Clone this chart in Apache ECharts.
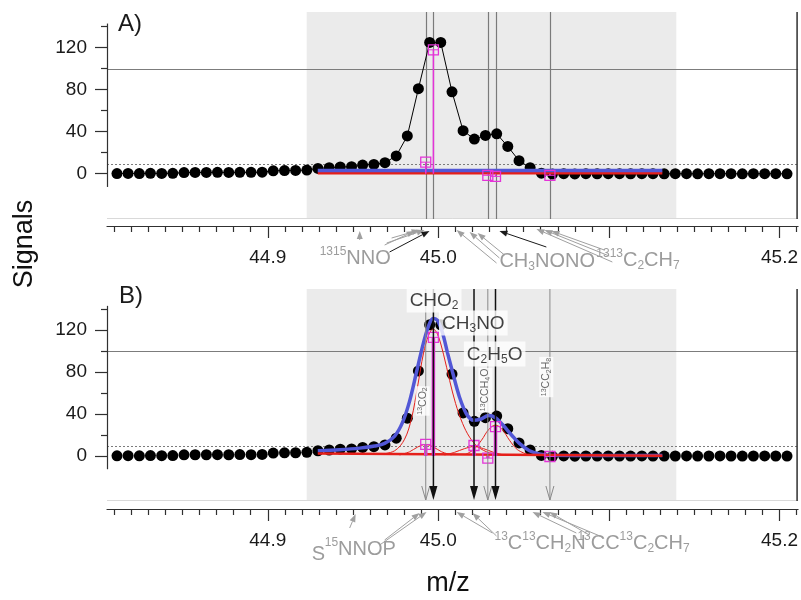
<!DOCTYPE html>
<html>
<head>
<meta charset="utf-8">
<script src="https://cdn.jsdelivr.net/npm/echarts@6/dist/echarts.min.js"></script>
<style>
  html, body { margin: 0; padding: 0; background: #fff; }
  #chart { width: 801px; height: 600px; }
</style>
</head>
<body>
<div id="chart"></div>
<script>
// ---------------------------------------------------------------
// Spectrum data
// ---------------------------------------------------------------
// m/z of each acquisition bin
const mzBins = [
  44.8116, 44.8181, 44.8247, 44.8312, 44.8378, 44.8443, 44.8509, 44.8574,
  44.8640, 44.8705, 44.8771, 44.8836, 44.8902, 44.8967, 44.9032, 44.9098,
  44.9163, 44.9229, 44.9294, 44.9360, 44.9425, 44.9491, 44.9556, 44.9622,
  44.9687, 44.9753, 44.9818, 44.9883, 44.9949, 45.0014, 45.0080, 45.0145,
  45.0211, 45.0276, 45.0342, 45.0407, 45.0473, 45.0538, 45.0604, 45.0669,
  45.0735, 45.0800, 45.0865, 45.0931, 45.0996, 45.1062, 45.1127, 45.1193,
  45.1258, 45.1324, 45.1389, 45.1455, 45.1520, 45.1586, 45.1651, 45.1716,
  45.1782, 45.1847, 45.1913, 45.1978, 45.2044
];
// measured signal in each bin
const signal = [
  0.2, 0.3, 0.2, 0.4, 0.3, 0.4,
  1.1, 1.2, 1.2, 1.3, 1.2, 1.4, 1.3, 1.5,
  2.8, 3.0, 3.1,
  3.5, 5.0, 5.7, 6.5, 6.7, 8.2, 8.9, 10.5, 17, 36, 81, 125, 125, 78, 41,
  33, 36.5, 38, 26, 12.4, 5.7, 0.5, -0.3,
  0.1, -0.2, 0.0, -0.1, 0.1, 0.0, -0.1, 0.1, 0.0, -0.1, 0.0, 0.1, -0.1,
  0.0, 0.1, 0.0, -0.1, 0.0, 0.1, 0.0, -0.1
];

// fitting window (shaded) and reference levels
const fitWindow = [44.9228, 45.1395];
const refLevel = 100;
const noiseLevel = 9.5;

// candidate ions
const ionNames = ['13CO2', 'CHO2', 'CH3NO', '13CCH4O', 'C2H5O', '13CC2H8'];
const ionMz = [44.9926, 44.9971, 45.0209, 45.0290, 45.0335, 45.0654];
const ionInPanelA = [true, true, false, true, true, true];
const ionAssigned = [false, true, true, false, true, false];
// stick heights (null = not shown)
const stickA = [11, 118, null, -1.5, -2.5, -1.5];
const stickB = [11, 113, 10, -2, 28, -0.5];

// panel A: fit result without peak assignment
const fitFlatA = [[44.9293, 3], [45.1313, 3]];
const baseFlatA = [[44.9293, 0.7], [45.1313, 0.7]];

// panel B: cumulative fit
const fitSumB = [
  [44.9293, 5], [44.9422, 6], [44.9539, 7.5], [44.9626, 9.5], [44.9685, 12],
  [44.9744, 19], [44.9790, 32], [44.9831, 52], [44.9872, 80], [44.9913, 108],
  [44.9943, 124], [44.9969, 131], [44.9995, 129], [45.0025, 117], [45.0054, 98],
  [45.0083, 80], [45.0124, 56], [45.0165, 40], [45.0206, 34], [45.0247, 35],
  [45.0294, 38.5], [45.0335, 36.5], [45.0376, 30], [45.0429, 20], [45.0475, 12],
  [45.0534, 5], [45.0592, 2], [45.0663, 0.6], [45.0944, 0.5], [45.1313, 0.5]
];
// panel B: baseline and single-ion peaks
const baselineB = [[44.9293, 2.3], [45.1313, 0.3]];
const peakCHO2 = [
  [44.9656, 1.5], [44.9744, 5], [44.9802, 16], [44.9843, 36], [44.9878, 66],
  [44.9913, 98], [44.9943, 115], [44.9969, 121], [44.9995, 116], [45.0030, 97],
  [45.0066, 72], [45.0101, 50], [45.0142, 31], [45.0183, 18], [45.0230, 9],
  [45.0300, 3], [45.0388, 1], [45.0475, 0.5]
];
const peak13CO2 = [
  [44.9773, 1], [44.9831, 4], [44.9878, 8.5], [44.9925, 11], [44.9972, 8.5],
  [45.0019, 4], [45.0077, 1]
];
const peakCH3NO = [
  [45.0036, 1], [45.0095, 3.5], [45.0153, 7], [45.0209, 9], [45.0265, 7],
  [45.0323, 3.5], [45.0382, 1]
];
const peakC2H5O = [
  [45.0159, 1.5], [45.0206, 6], [45.0253, 15], [45.0294, 25], [45.0335, 29.5],
  [45.0376, 25], [45.0417, 15], [45.0464, 6], [45.0522, 1.5]
];

// axis ticks
const yLabelTicks = [0, 40, 80, 120];
const yMinorTicks = [20, 60, 100, 140];
const xMajorTicks = [44.9, 45.0, 45.1, 45.2];
const xLabelTicks = [44.9, 45.0, 45.2];
const xMinorTicks = [
  44.81, 44.82, 44.83, 44.84, 44.85, 44.86, 44.87, 44.88, 44.89,
  44.91, 44.92, 44.93, 44.94, 44.95, 44.96, 44.97, 44.98, 44.99,
  45.01, 45.02, 45.03, 45.04, 45.05, 45.06, 45.07, 45.08, 45.09,
  45.11, 45.12, 45.13, 45.14, 45.15, 45.16, 45.17, 45.18, 45.19,
  45.21
];

// ---------------------------------------------------------------
// Layout and styles
// ---------------------------------------------------------------
const FONT = 'Liberation Sans, Arial, sans-serif';
const XMIN = 44.80574, XMAX = 45.21089;
const AXIS_SPAN = [-12.6, 143];
const MAGENTA = '#e433d8';
const BLUE = '#5257d6';
const RED = '#e51f1a';
const GRAY_TXT = '#9c9c9c';

const panels = [
  { grid: { left: 107, top: 12, width: 692, height: 207 }, ymin: -43.1, ymax: 154.0, offset: 7 },
  { grid: { left: 107, top: 289, width: 692, height: 212 }, ymin: -42.86, ymax: 159.05, offset: 8 }
];

// Ion tags inside panel B (anchor m/z, anchor signal level)
const mainTags = [
  { mz: 44.9975, y: 148.6, text: 'CHO{s|2}' },
  { mz: 45.0205, y: 126.7, text: 'CH{s|3}NO' },
  { mz: 45.0330, y: 97.1, text: 'C{s|2}H{s|5}O' }
];
const isoTags = [
  { mz: 44.9908, y: 52.4, text: '{p|13}CO{s|2}' },
  { mz: 45.0276, y: 62.9, text: '{p|13}CCH{s|4}O' },
  { mz: 45.0633, y: 75.2, text: '{p|13}CC{s|2}H{s|8}' }
];

// Candidate labels below the m/z axis: dy = pixels under the axis line
const underAxis = [
  {
    texts: [
      { mz: 44.9304, dy: 20, text: '{p|13}{p|15}NNO' },
      { mz: 45.0358, dy: 23, text: 'CH{b|3}NONO' },
      { mz: 45.0926, dy: 22, text: '{p|13}{p|13}C{b|2}CH{b|7}' }
    ],
    arrows: [
      { from: [44.9539, 14], to: [44.9539, 5], c: 'g' },
      { from: [44.9697, 17], to: [44.9919, 4], c: 'g' },
      { from: [44.9726, 12], to: [44.9890, 4], c: 'g' },
      { from: [44.9685, 19], to: [44.9861, 5], c: 'g' },
      { from: [44.9714, 26], to: [44.9948, 5], c: 'k' },
      { from: [45.0341, 37], to: [45.0107, 4], c: 'g' },
      { from: [45.0358, 32], to: [45.0183, 6], c: 'g' },
      { from: [45.0388, 29], to: [45.0230, 7], c: 'g' },
      { from: [45.0633, 21], to: [45.0358, 5], c: 'k' },
      { from: [45.1020, 36], to: [45.0575, 3], c: 'g' },
      { from: [45.1002, 30], to: [45.0622, 4], c: 'g' },
      { from: [45.0973, 24], to: [45.0663, 5], c: 'g' }
    ]
  },
  {
    texts: [
      { mz: 44.9258, dy: 33, text: 'S' },
      { mz: 44.9334, dy: 28, text: '{p|15}NNOP' },
      { mz: 45.0329, dy: 22, text: '{p|13}C{p|13}CH{b|2}N' },
      { mz: 45.0815, dy: 22, text: '{p|13}CC{p|13}C{b|2}CH{b|7}' }
    ],
    arrows: [
      { from: [44.9480, 19], to: [44.9515, 5], c: 'g' },
      { from: [44.9656, 36], to: [44.9931, 3], c: 'g' },
      { from: [44.9685, 31], to: [44.9890, 4], c: 'g' },
      { from: [45.0317, 24], to: [45.0107, 3], c: 'g' },
      { from: [45.0341, 27], to: [45.0200, 4], c: 'g' },
      { from: [45.0809, 24], to: [45.0552, 3], c: 'g' },
      { from: [45.0961, 28], to: [45.0610, 3], c: 'g' },
      { from: [45.0885, 26], to: [45.0651, 3], c: 'g' }
    ]
  }
];

// ---------------------------------------------------------------
// Helpers
// ---------------------------------------------------------------
const crisp = v => Math.round(v) + 0.5;
const seg = (x1, y1, x2, y2, style) => ({ type: 'line', shape: { x1, y1, x2, y2 }, style });

function arrow(x1, y1, x2, y2, color, width, L, W) {
  const a = Math.atan2(y2 - y1, x2 - x1);
  const bx = x2 - L * Math.cos(a), by = y2 - L * Math.sin(a);
  const nx = -Math.sin(a) * W, ny = Math.cos(a) * W;
  return [
    seg(x1, y1, bx, by, { stroke: color, lineWidth: width }),
    { type: 'polygon', shape: { points: [[x2, y2], [bx + nx, by + ny], [bx - nx, by - ny]] }, style: { fill: color } }
  ];
}

// shaded window, reference levels, frame and partial value axis line
function renderDecor(withIonLines) {
  return function (params, api) {
    const cs = params.coordSys;
    const left = cs.x, right = cs.x + cs.width, top = cs.y, bottom = cs.y + cs.height;
    const px = v => api.coord([v, 0])[0];
    const py = v => api.coord([XMIN, v])[1];
    const kids = [];
    const w0 = px(fitWindow[0]), w1 = px(fitWindow[1]);
    kids.push({ type: 'rect', shape: { x: w0, y: top, width: w1 - w0, height: cs.height }, style: { fill: '#ebebeb' } });
    kids.push(seg(left, crisp(py(refLevel)), right, crisp(py(refLevel)), { stroke: '#7c7c7c', lineWidth: 1.1 }));
    kids.push(seg(left, crisp(py(noiseLevel)), right, crisp(py(noiseLevel)), { stroke: '#7c7c7c', lineWidth: 1, lineDash: [2, 2] }));
    kids.push(seg(left, bottom - 0.5, right, bottom - 0.5, { stroke: '#d9d9d9', lineWidth: 1 }));
    kids.push(seg(right - 1, top, right - 1, bottom, { stroke: '#303030', lineWidth: 1.5 }));
    kids.push(seg(left + 0.5, py(AXIS_SPAN[1]), left + 0.5, py(AXIS_SPAN[0]), { stroke: '#303030', lineWidth: 1.2 }));
    if (withIonLines) {
      ionMz.forEach((m, i) => {
        if (!ionInPanelA[i]) return;
        const x = crisp(px(m));
        kids.push(seg(x, top, x, bottom, { stroke: '#7a7a7a', lineWidth: 1.2 }));
      });
    }
    return { type: 'group', children: kids };
  };
}

// ion markers with arrowheads at the bottom of panel B
function renderIonArrows(params, api) {
  const cs = params.coordSys;
  const i = api.value(1);
  const x = api.coord([api.value(0), 0])[0];
  const top = cs.y, tip = cs.y + cs.height - 1;
  if (ionAssigned[i]) {
    return {
      type: 'group', children: [
        seg(x, top, x, tip - 10, { stroke: '#111', lineWidth: 1.5 }),
        { type: 'polygon', shape: { points: [[x - 4, tip - 14], [x + 4, tip - 14], [x, tip]] }, style: { fill: '#111' } }
      ]
    };
  }
  return {
    type: 'group', children: [
      seg(x, top, x, tip, { stroke: '#8a8a8a', lineWidth: 1 }),
      { type: 'polyline', shape: { points: [[x - 4, tip - 14], [x, tip], [x + 4, tip - 14]] }, style: { stroke: '#8a8a8a', lineWidth: 1, fill: 'none' } }
    ]
  };
}

// magenta sticks with square markers
function renderSticks(width) {
  return function (params, api) {
    const m = api.value(0), v = api.value(1);
    const b = api.coord([m, 0]), t = api.coord([m, v]);
    const s = 5;
    return {
      type: 'group', children: [
        seg(b[0], b[1], t[0], t[1], { stroke: MAGENTA, lineWidth: width }),
        { type: 'rect', shape: { x: t[0] - s, y: t[1] - s, width: 2 * s, height: 2 * s }, style: { fill: 'none', stroke: MAGENTA, lineWidth: 1.3 } },
        seg(t[0] - s, t[1], t[0] + s, t[1], { stroke: MAGENTA, lineWidth: 1 })
      ]
    };
  };
}

// grey candidate labels and leader arrows under the axis
function renderUnderAxis(spec, offset) {
  return function (params, api) {
    const cs = params.coordSys;
    const axisY = cs.y + cs.height + offset;
    const px = v => api.coord([v, 0])[0];
    const kids = [];
    spec.arrows.forEach(a => {
      const col = a.c === 'k' ? '#1a1a1a' : '#a0a0a0';
      kids.push(...arrow(px(a.from[0]), axisY + a.from[1], px(a.to[0]), axisY + a.to[1], col, 1, 8, 3));
    });
    spec.texts.forEach(t => {
      kids.push({
        type: 'text',
        style: {
          x: px(t.mz), y: axisY + t.dy, text: t.text, fill: GRAY_TXT,
          fontSize: 20, fontFamily: FONT, lineHeight: 24, align: 'left', verticalAlign: 'top',
          rich: {
            p: { fontSize: 12, fontFamily: FONT, fill: GRAY_TXT, verticalAlign: 'top', lineHeight: 12 },
            b: { fontSize: 12, fontFamily: FONT, fill: GRAY_TXT, verticalAlign: 'bottom', lineHeight: 12 }
          }
        }
      });
    });
    return { type: 'group', children: kids };
  };
}

// ---------------------------------------------------------------
// Axes
// ---------------------------------------------------------------
const tickLine = { color: '#303030', width: 1.2 };
const xAxes = [], yAxes = [];
panels.forEach((p, g) => {
  const xb = { type: 'value', gridIndex: g, min: XMIN, max: XMAX, position: 'bottom', offset: p.offset, splitLine: { show: false } };
  xAxes.push({
    ...xb,
    axisLine: { show: true, onZero: false, lineStyle: tickLine },
    axisTick: { show: true, customValues: xMajorTicks, length: 12, lineStyle: tickLine },
    axisLabel: { show: true, customValues: xLabelTicks, formatter: v => v.toFixed(1), margin: 22, color: '#1a1a1a', fontSize: 19, fontFamily: FONT }
  });
  xAxes.push({
    ...xb,
    axisLine: { show: false, onZero: false },
    axisTick: { show: true, customValues: xMinorTicks, length: 6, lineStyle: tickLine },
    axisLabel: { show: false }
  });
  const yb = { type: 'value', gridIndex: g, min: p.ymin, max: p.ymax, position: 'left', splitLine: { show: false }, axisLine: { show: false, onZero: false } };
  yAxes.push({
    ...yb,
    axisTick: { show: true, customValues: yLabelTicks, length: 12, lineStyle: tickLine },
    axisLabel: { show: true, customValues: yLabelTicks, margin: 20, color: '#1a1a1a', fontSize: 19, fontFamily: FONT }
  });
  yAxes.push({
    ...yb,
    axisTick: { show: true, customValues: yMinorTicks, length: 6, lineStyle: tickLine },
    axisLabel: { show: false }
  });
});

// ---------------------------------------------------------------
// Series (z sets the stacking: frame < dots < fits < sticks < markers < tags)
// ---------------------------------------------------------------
const A = { xAxisIndex: 0, yAxisIndex: 0 };
const B = { xAxisIndex: 2, yAxisIndex: 2 };
const points = mzBins.map((m, i) => [m, signal[i]]);
const noSym = { symbol: 'none', silent: true };

const series = [
  // ---- panel A ----
  { type: 'custom', ...A, z: 1, data: [[XMIN, 0]], renderItem: renderDecor(true), silent: true },
  {
    type: 'line', ...A, z: 2, data: points, symbol: 'circle', symbolSize: 11, showAllSymbol: true,
    itemStyle: { color: '#000' }, lineStyle: { color: '#000', width: 1 }, silent: true
  },
  { type: 'line', ...A, ...noSym, z: 3, data: baseFlatA, lineStyle: { color: RED, width: 3 } },
  { type: 'line', ...A, ...noSym, z: 4, data: fitFlatA, lineStyle: { color: BLUE, width: 3.5 } },
  {
    type: 'custom', ...A, z: 5, renderItem: renderSticks(1.5), silent: true,
    data: ionMz.map((m, i) => stickA[i] === null ? null : [m, stickA[i]]).filter(d => d)
  },
  { type: 'custom', ...A, z: 6, data: [[XMIN, 0]], renderItem: renderUnderAxis(underAxis[0], panels[0].offset), silent: true, clip: false },

  // ---- panel B ----
  { type: 'custom', ...B, z: 1, data: [[XMIN, 0]], renderItem: renderDecor(false), silent: true },
  {
    type: 'line', ...B, z: 2, data: points, symbol: 'circle', symbolSize: 11, showAllSymbol: true,
    itemStyle: { color: '#000' }, lineStyle: { opacity: 0 }, silent: true
  },
  { type: 'line', ...B, ...noSym, z: 3, data: fitSumB, smooth: 0.35, lineStyle: { color: BLUE, width: 3.5 } },
  { type: 'line', ...B, ...noSym, z: 4, data: baselineB, lineStyle: { color: RED, width: 2.5 } },
  { type: 'line', ...B, ...noSym, z: 4, data: peakCHO2, smooth: 0.35, lineStyle: { color: RED, width: 1 } },
  { type: 'line', ...B, ...noSym, z: 4, data: peak13CO2, smooth: 0.35, lineStyle: { color: RED, width: 1 } },
  { type: 'line', ...B, ...noSym, z: 4, data: peakCH3NO, smooth: 0.35, lineStyle: { color: RED, width: 1 } },
  { type: 'line', ...B, ...noSym, z: 4, data: peakC2H5O, smooth: 0.35, lineStyle: { color: RED, width: 1 } },
  {
    type: 'custom', ...B, z: 5, renderItem: renderSticks(3.5), silent: true,
    data: ionMz.map((m, i) => [m, stickB[i]])
  },
  { type: 'custom', ...B, z: 6, renderItem: renderIonArrows, silent: true, data: ionMz.map((m, i) => [m, i]) },
  {
    type: 'scatter', ...B, z: 7, symbolSize: 0, silent: true,
    data: isoTags.map(t => ({ value: [t.mz, t.y], tag: t.text })),
    label: {
      show: true, position: 'inside', rotate: 90, formatter: p => p.data.tag,
      color: '#444', fontSize: 10.5, fontFamily: FONT, lineHeight: 12, backgroundColor: '#fff', padding: [1, 1],
      rich: {
        p: { fontSize: 7, fontFamily: FONT, color: '#444', verticalAlign: 'top', lineHeight: 8 },
        s: { fontSize: 7, fontFamily: FONT, color: '#444', verticalAlign: 'bottom', lineHeight: 8 }
      }
    }
  },
  {
    type: 'scatter', ...B, z: 8, symbolSize: 0, silent: true,
    data: mainTags.map(t => ({ value: [t.mz, t.y], tag: t.text })),
    label: {
      show: true, position: 'inside', formatter: p => p.data.tag,
      color: '#111', fontSize: 19, fontFamily: FONT, lineHeight: 22, backgroundColor: '#fff', padding: [2, 3, 1, 3],
      rich: {
        s: { fontSize: 12, fontFamily: FONT, color: '#111', verticalAlign: 'bottom', lineHeight: 12 }
      }
    }
  },
  { type: 'custom', ...B, z: 6, data: [[XMIN, 0]], renderItem: renderUnderAxis(underAxis[1], panels[1].offset), silent: true, clip: false }
];

const chart = echarts.init(document.getElementById('chart'), null, { renderer: 'canvas' });
chart.setOption({
  animation: false,
  backgroundColor: '#fff',
  grid: panels.map(p => p.grid),
  xAxis: xAxes,
  yAxis: yAxes,
  series: series,
  graphic: [
    { type: 'text', x: 118, y: 12, style: { text: 'A)', fontSize: 24, fontFamily: FONT, fill: '#1a1a1a' } },
    { type: 'text', x: 119, y: 284, style: { text: 'B)', fontSize: 24, fontFamily: FONT, fill: '#1a1a1a' } },
    {
      type: 'text', x: 25, y: 244, rotation: Math.PI / 2,
      style: { text: 'Signals', fontSize: 27, fontFamily: FONT, fill: '#111', align: 'center', verticalAlign: 'middle' }
    },
    {
      type: 'text', x: 448, y: 584,
      style: { text: 'm/z', fontSize: 27, fontFamily: FONT, fill: '#111', align: 'center', verticalAlign: 'middle' }
    }
  ]
});
</script>
</body>
</html>
